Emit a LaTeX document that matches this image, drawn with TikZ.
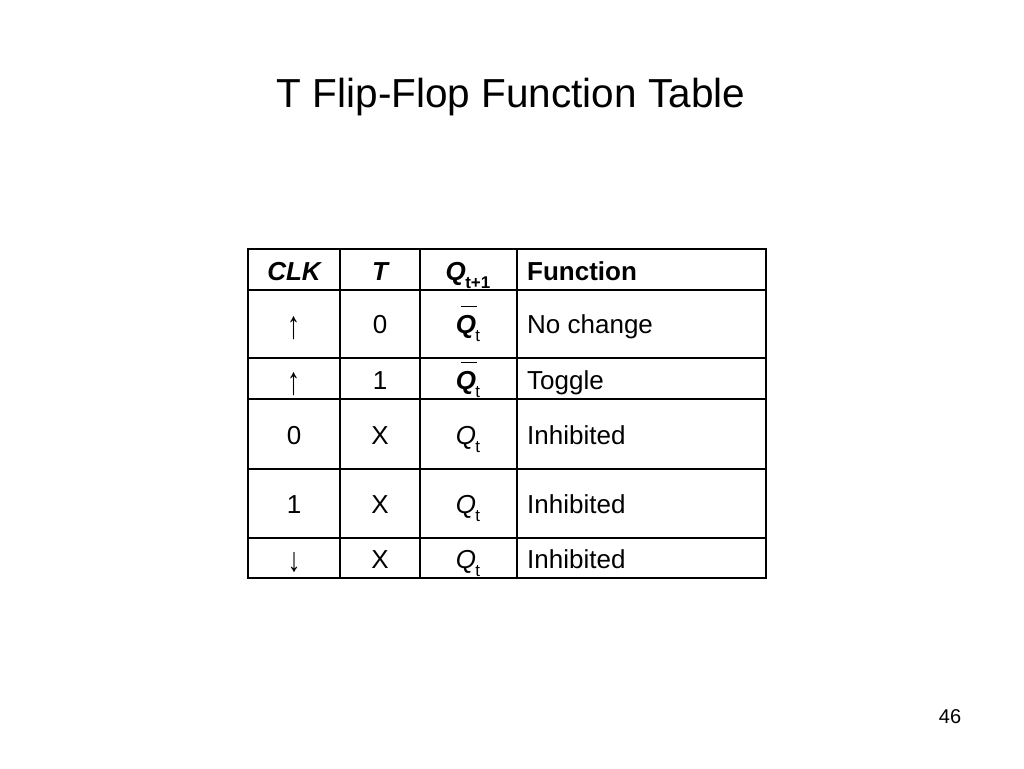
\documentclass[tikz,border=0pt]{standalone}
\usepackage{graphicx}
\usepackage{fontspec}
\setmainfont{Liberation Sans}
\newcommand{\subt}[1]{\kern-0.6pt\raisebox{-0.33em}{\fontsize{17pt}{17pt}\selectfont #1}}
\newcommand{\qbarT}{\makebox[0pt][l]{\hspace{0.18em}\raisebox{1.0em}{\rule{0.62em}{1pt}}}{\bfseries\itshape Q}}
\newcommand{\arrUp}{\raisebox{-0.22em}{\scalebox{1}[1.5]{↑}}}
\newcommand{\arrDown}{\raisebox{-0.12em}{\scalebox{1}[1.3]{↓}}}
\begin{document}
\begin{tikzpicture}[x=1pt,y=-1pt,
  grid/.style={line width=1.3pt,black},
  cell/.style={anchor=base,inner sep=0pt,font=\fontsize{26pt}{26pt}\selectfont},
  lcell/.style={anchor=base west,inner sep=0pt,font=\fontsize{26pt}{26pt}\selectfont}]
\useasboundingbox[fill=white] (0,0) rectangle (1024,768);
\node[anchor=base,inner sep=0pt,font=\fontsize{40.5pt}{40.5pt}\selectfont] (title) at (511,107) {T Flip-Flop Function Table};
\node[anchor=base,inner sep=0pt,font=\fontsize{20pt}{20pt}\selectfont] (page) at (950,723) {46};
% table grid
\draw[grid] (248,249) rectangle (766,578);
\foreach \y in {290,358,399,469,538} \draw[grid] (248,\y) -- (766,\y);
\foreach \x in {340,420,517} \draw[grid] (\x,249) -- (\x,578);
% header
\node[cell] (h1) at (294,280) {\bfseries\itshape CLK};
\node[cell] (h2) at (380,280) {\bfseries\itshape T};
\node[cell] (h3) at (468,280) {{\bfseries\itshape Q}\subt{\bfseries t+1}};
\node[lcell] (h4) at (527,280) {\bfseries Function};
% row 1
\node[cell] (a1) at (294,333) {\arrUp};
\node[cell] (a2) at (380,333) {0};
\node[cell] (a3) at (468,333) {\qbarT\subt{t}};
\node[lcell] (a4) at (527,333) {No change};
% row 2
\node[cell] (b1) at (294,389) {\arrUp};
\node[cell] (b2) at (380,389) {1};
\node[cell] (b3) at (468,389) {\qbarT\subt{t}};
\node[lcell] (b4) at (527,389) {Toggle};
% row 3
\node[cell] (c1) at (294,444) {0};
\node[cell] (c2) at (380,444) {X};
\node[cell] (c3) at (468,444) {{\itshape Q}\subt{t}};
\node[lcell] (c4) at (527,444) {Inhibited};
% row 4
\node[cell] (d1) at (294,513) {1};
\node[cell] (d2) at (380,513) {X};
\node[cell] (d3) at (468,513) {{\itshape Q}\subt{t}};
\node[lcell] (d4) at (527,513) {Inhibited};
% row 5
\node[cell] (e1) at (294,568) {\arrDown};
\node[cell] (e2) at (380,568) {X};
\node[cell] (e3) at (468,568) {{\itshape Q}\subt{t}};
\node[lcell] (e4) at (527,568) {Inhibited};
\end{tikzpicture}
\end{document}
